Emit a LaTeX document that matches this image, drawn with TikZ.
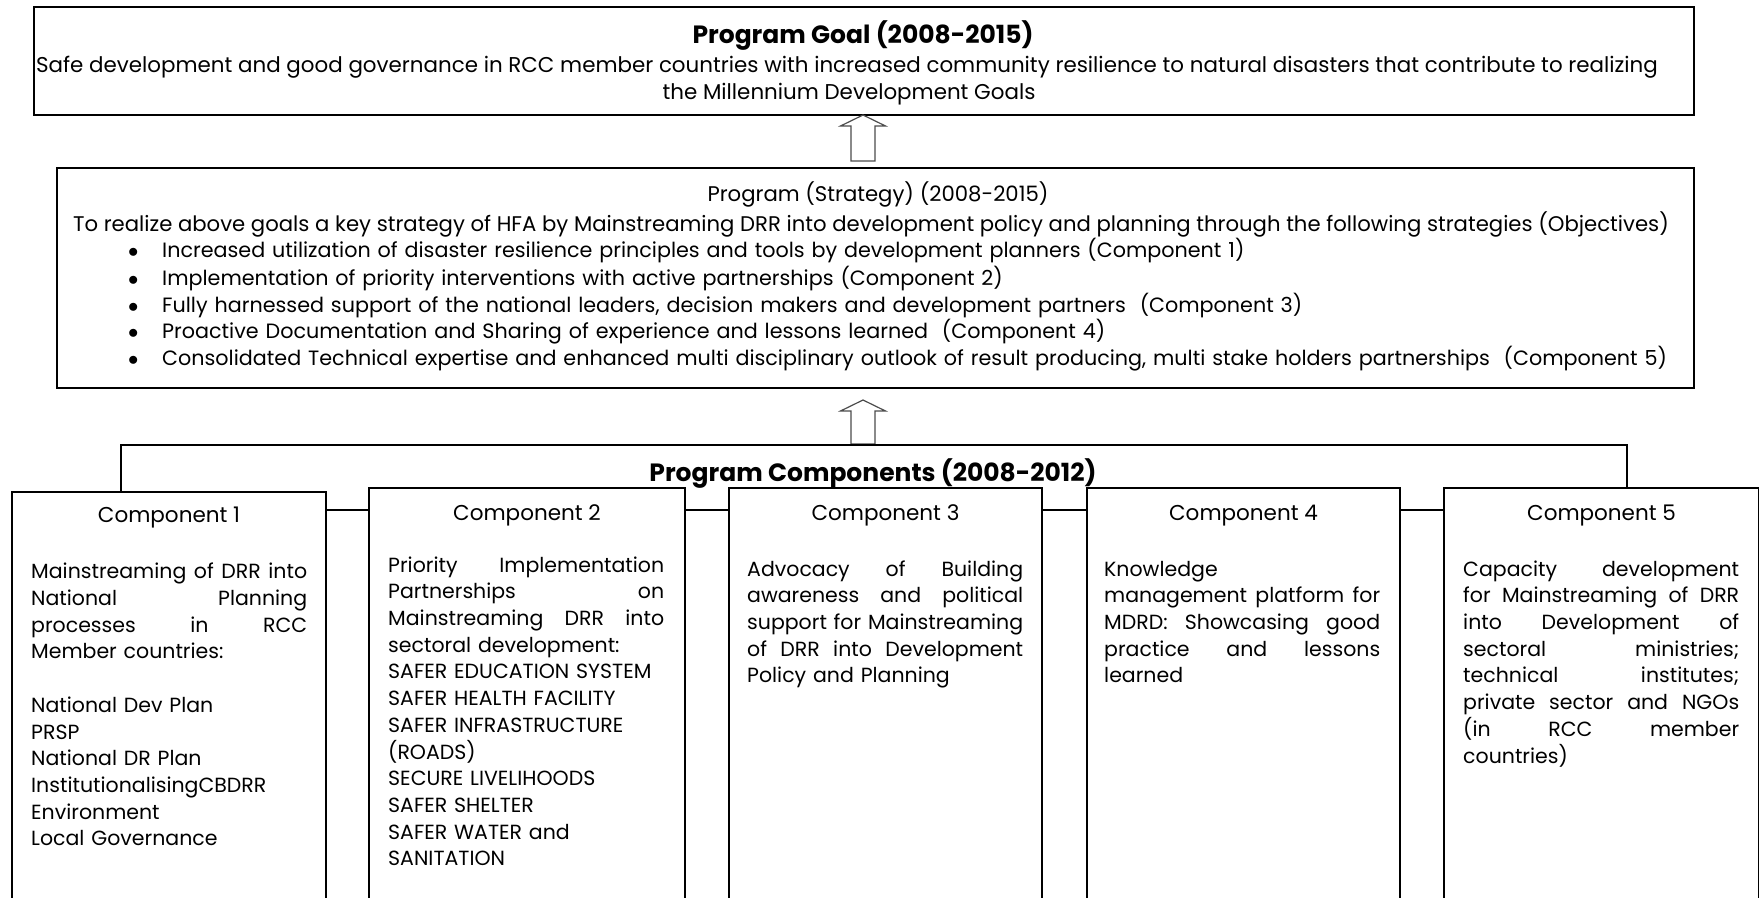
\documentclass[tikz,border=0pt]{standalone}
\usepackage{fontspec}
\setmainfont{Poppins}
\usetikzlibrary{calc}
\setlength{\parindent}{0pt}
\newcommand{\goalfont}{\fontsize{21.4}{27}\selectfont}
\newcommand{\stratfont}{\fontsize{21.2}{27}\selectfont}
\newcommand{\listfont}{\fontsize{20.7}{26.5}\selectfont}
\newcommand{\comptitlefont}{\fontsize{21.5}{26}\selectfont}
\newcommand{\bodyfont}{\fontsize{20.5}{26.7}\selectfont}
\newcommand{\headfont}{\fontsize{25}{30}\selectfont\bfseries}
\newcommand{\jline}[1]{{\spaceskip=0pt\xspaceskip=0pt\makebox[\linewidth][s]{#1}}\\}
\newcommand{\bul}{\makebox[34pt][l]{$\bullet$}}
\begin{document}
\begin{tikzpicture}[x=1pt,y=-1pt]
\tikzset{
  box/.style={draw=black, line width=2pt, fill=white, rectangle, inner sep=0pt, anchor=north west},
  link/.style={draw=black, line width=2pt},
  txt/.style={inner sep=0pt, text=black},
  para/.style={txt, font=\bodyfont, anchor=north west, text width=276pt, align=left},
  blockarrow/.style={draw=black!70, line width=1.2pt, fill=white, line join=miter},
}
\useasboundingbox (0,0) rectangle (1759,897);
\clip (0,0) rectangle (1759,897);
\fill[white] (0,0) rectangle (1759,897);

% boxes
\node[box, minimum width=1660, minimum height=108] (goal) at (33,6) {};
\node[box, minimum width=1637, minimum height=220] (strat) at (56,167) {};
\node[box, minimum width=314, minimum height=430] (c1) at (11,491) {};
\node[box, minimum width=316, minimum height=430] (c2) at (368,487) {};
\node[box, minimum width=313, minimum height=430] (c3) at (728,487) {};
\node[box, minimum width=313, minimum height=430] (c4) at (1086,487) {};
\node[box, minimum width=315, minimum height=430] (c5) at (1443,487) {};

% goal text
\node[txt, font=\headfont, anchor=base] (goaltitle) at (863,43) {Program Goal (2008-2015)};
\node[txt, font=\goalfont, anchor=base] (goalline1) at (847,72.5) {Safe development and good governance in RCC member countries with increased community resilience to natural disasters that contribute to realizing};
\node[txt, font=\goalfont, anchor=base] (goalline2) at (849,99.5) {the Millennium Development Goals};

% strategy text
\node[txt, font=\stratfont, anchor=base] (strattitle) at (878,201) {Program (Strategy) (2008-2015)};
\node[txt, font=\stratfont, anchor=base] (stratline) at (871,231) {To realize above goals a key strategy of HFA by Mainstreaming DRR into development policy and planning through the following strategies (Objectives)};
\node[txt, font=\listfont, anchor=north west, text width=1560pt, align=left] (bullets) at (128,238) {\strut\bul Increased utilization of disaster resilience principles and tools by development planners (Component 1)\\
\bul Implementation of priority interventions with active partnerships (Component 2)\\
\bul Fully harnessed support of the national leaders, decision makers and development partners \ (Component 3)\\
\bul Proactive Documentation and Sharing of experience and lessons learned \ (Component 4)\\
\bul Consolidated Technical expertise and enhanced multi disciplinary outlook of result producing, multi stake holders partnerships \ (Component 5)};

% arrows
\coordinate (a1tip) at (863,115);
\coordinate (a1base) at (863,161);
\coordinate (a2tip) at (863,400);
\coordinate (a2base) at (863,444);
\draw[blockarrow] let \p1=(a1base), \p2=(a1tip) in
  (\x1-12pt,\y1) -- (\x1-12pt,\y2-11pt) -- (\x1-22.5pt,\y2-11pt) -- (\x2,\y2)
  -- (\x1+22.5pt,\y2-11pt) -- (\x1+12pt,\y2-11pt) -- (\x1+12pt,\y1) -- cycle;
\draw[blockarrow] let \p1=(a2base), \p2=(a2tip) in
  (\x1-12pt,\y1) -- (\x1-12pt,\y2-11pt) -- (\x1-22.5pt,\y2-11pt) -- (\x2,\y2)
  -- (\x1+22.5pt,\y2-11pt) -- (\x1+12pt,\y2-11pt) -- (\x1+12pt,\y1) -- cycle;

% bracket and links
\coordinate (brL) at (121,445);
\coordinate (brR) at (1627,445);
\coordinate (hl) at (0,510);
\draw[link] (brL |- c1.north) -- (brL) -- (brR) -- (brR |- c5.north);
\draw[link] (c1.east |- hl) -- (c2.west |- hl);
\draw[link] (c2.east |- hl) -- (c3.west |- hl);
\draw[link] (c3.east |- hl) -- (c4.west |- hl);
\draw[link] (c4.east |- hl) -- (c5.west |- hl);

\node[txt, font=\headfont, anchor=base] (comptitle) at (873,481) {Program Components (2008-2012)};

% component titles
\node[txt, font=\comptitlefont, anchor=base] (c1t) at (c1.north |- 0,522) {Component 1};
\node[txt, font=\comptitlefont, anchor=base] (c2t) at (c2.north |- 0,520) {Component 2};
\node[txt, font=\comptitlefont, anchor=base] (c3t) at (c3.north |- 0,520) {Component 3};
\node[txt, font=\comptitlefont, anchor=base] (c4t) at (c4.north |- 0,520) {Component 4};
\node[txt, font=\comptitlefont, anchor=base] (c5t) at (c5.north |- 0,520) {Component 5};

% component bodies
\node[para] (c1b) at (31,560.0) {\strut\jline{Mainstreaming of DRR into}\jline{National Planning}\jline{processes in RCC}Member countries:\\[26.7pt]
National Dev Plan\\PRSP\\National DR Plan\\InstitutionalisingCBDRR\\Environment\\Local Governance};
\node[para] (c2b) at (388,553.3) {\strut\jline{Priority Implementation}\jline{Partnerships on}\jline{Mainstreaming DRR into}sectoral development:\\
SAFER EDUCATION SYSTEM\\SAFER HEALTH FACILITY\\SAFER INFRASTRUCTURE\\(ROADS)\\SECURE LIVELIHOODS\\SAFER SHELTER\\SAFER WATER and\\SANITATION};
\node[para] (c3b) at (747,557.3) {\strut\jline{Advocacy of Building}\jline{awareness and political}\jline{support for Mainstreaming}\jline{of DRR into Development}Policy and Planning};
\node[para] (c4b) at (1104,557.3) {\strut Knowledge\\\jline{management platform for}\jline{MDRD: Showcasing good}\jline{practice and lessons}learned};
\node[para] (c5b) at (1463,557.3) {\strut\jline{Capacity development}\jline{for Mainstreaming of DRR}\jline{into Development of}\jline{sectoral ministries;}\jline{technical institutes;}\jline{private sector and NGOs}\jline{(in RCC member}countries)};
\end{tikzpicture}
\end{document}
